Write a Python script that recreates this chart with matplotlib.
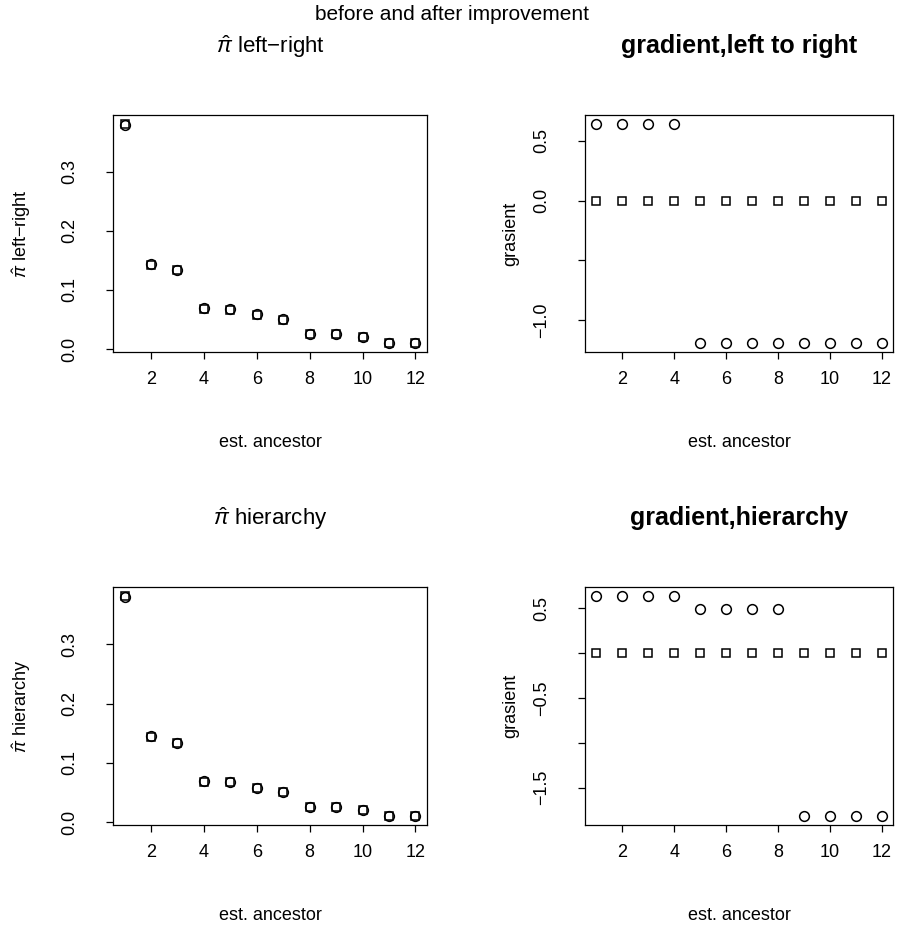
import numpy as np
import matplotlib.pyplot as plt

plt.rcParams['font.family'] = ['Liberation Sans', 'DejaVu Sans']
plt.rcParams['mathtext.fontset'] = 'custom'
plt.rcParams['mathtext.rm'] = 'Liberation Sans'
plt.rcParams['mathtext.it'] = 'Liberation Sans:italic'

ancestor = [1, 2, 3, 4, 5, 6, 7, 8, 9, 10, 11, 12]

# pi-hat, left-right (before = circles, after = squares)
pi_lr_before = [0.379, 0.144, 0.134, 0.069, 0.068, 0.059, 0.051, 0.026, 0.025, 0.021, 0.010, 0.010]
pi_lr_after = [0.381, 0.142, 0.133, 0.068, 0.067, 0.058, 0.050, 0.025, 0.025, 0.020, 0.010, 0.010]

# pi-hat, hierarchy
pi_h_before = [0.380, 0.145, 0.134, 0.069, 0.068, 0.058, 0.051, 0.026, 0.025, 0.021, 0.010, 0.010]
pi_h_after = [0.382, 0.143, 0.133, 0.068, 0.067, 0.058, 0.050, 0.025, 0.025, 0.020, 0.010, 0.010]

# gradients
grad_lr_before = [0.64, 0.64, 0.64, 0.64, -1.19, -1.19, -1.19, -1.19, -1.19, -1.19, -1.19, -1.19]
grad_lr_after = [0, 0, 0, 0, 0, 0, 0, 0, 0, 0, 0, 0]
grad_h_before = [0.64, 0.64, 0.64, 0.64, 0.49, 0.49, 0.49, 0.49, -1.82, -1.82, -1.82, -1.82]
grad_h_after = [0, 0, 0, 0, 0, 0, 0, 0, 0, 0, 0, 0]

W, H = 904, 925
fig = plt.figure(figsize=(W / 100, H / 100), dpi=100)


def panel(x0, y0, x1, y1):
    return fig.add_axes([x0 / W, 1 - y1 / H, (x1 - x0) / W, (y1 - y0) / H])


def style(ax, yticks, ylabels, ylab, title, bold, ylpad):
    ax.margins(x=0.04, y=0.04)
    ax.set_xticks([2, 4, 6, 8, 10, 12])
    ax.set_yticks(yticks)
    ax.set_yticklabels(ylabels, rotation=90, va='center')
    ax.tick_params(direction='out', length=5, width=0.9, labelsize=13)
    ax.tick_params(axis='x', pad=9)
    ax.tick_params(axis='y', pad=20)
    for s in ax.spines.values():
        s.set_linewidth(0.9)
    ax.set_xlabel('est. ancestor', fontsize=13, labelpad=33)
    ax.set_ylabel(ylab, fontsize=13, labelpad=ylpad)
    if bold:
        ax.set_title(title, fontsize=18, fontweight='bold', pad=45)
    else:
        ax.set_title(title, fontsize=16, pad=45)


def pts(ax, before, after):
    ax.plot(ancestor, before, 'o', ms=7, mfc='none', mec='black', mew=1.1)
    ax.plot(ancestor, after, 's', ms=6, mfc='none', mec='black', mew=1.1)


ax1 = panel(113, 115, 427, 352)
pts(ax1, pi_lr_before, pi_lr_after)
style(ax1, [0.0, 0.1, 0.2, 0.3], ['0.0', '0.1', '0.2', '0.3'],
      '$\\hat{\\pi}$ left\u2212right', '$\\hat{\\pi}$ left\u2212right', False, 20)

ax2 = panel(585, 115, 893, 352)
pts(ax2, grad_lr_before, grad_lr_after)
style(ax2, [0.5, 0.0, -0.5, -1.0], ['0.5', '0.0', '', '\u22121.0'],
      'grasient', 'gradient,left to right', True, 10)

ax3 = panel(113, 587, 427, 825)
pts(ax3, pi_h_before, pi_h_after)
style(ax3, [0.0, 0.1, 0.2, 0.3], ['0.0', '0.1', '0.2', '0.3'],
      '$\\hat{\\pi}$ hierarchy', '$\\hat{\\pi}$ hierarchy', False, 20)

ax4 = panel(585, 587, 893, 825)
pts(ax4, grad_h_before, grad_h_after)
style(ax4, [0.5, 0.0, -0.5, -1.0, -1.5], ['0.5', '', '\u22120.5', '', '\u22121.5'],
      'grasient', 'gradient,hierarchy', True, 10)

fig.text(0.5, 1 - 20 / H, 'before and after improvement', ha='center', va='baseline', fontsize=15)

fig.savefig('out.png', dpi=100)
